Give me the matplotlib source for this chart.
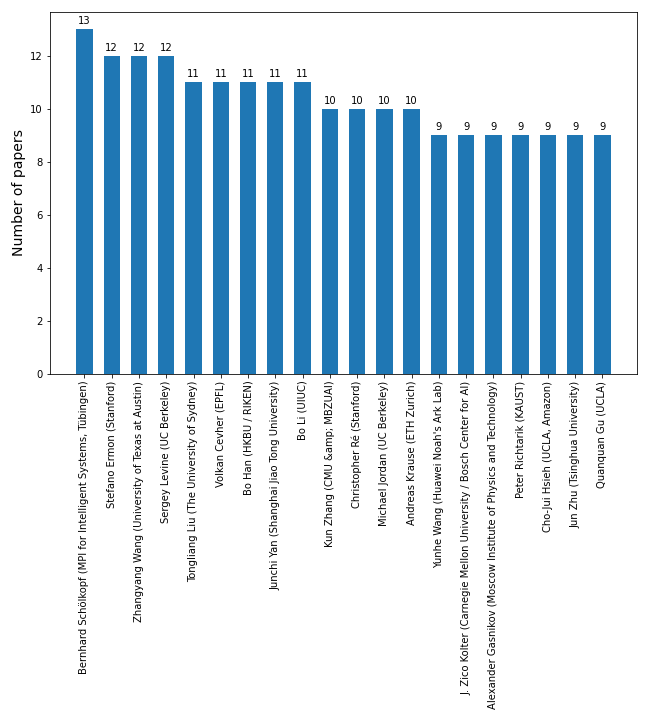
import matplotlib.pyplot as plt

authors = [
    "Bernhard Schölkopf (MPI for Intelligent Systems, Tübingen)",
    "Stefano Ermon (Stanford)",
    "Zhangyang Wang (University of Texas at Austin)",
    "Sergey Levine (UC Berkeley)",
    "Tongliang Liu (The University of Sydney)",
    "Volkan Cevher (EPFL)",
    "Bo Han (HKBU / RIKEN)",
    "Junchi Yan (Shanghai Jiao Tong University)",
    "Bo Li (UIUC)",
    "Kun Zhang (CMU &amp; MBZUAI)",
    "Christopher Ré (Stanford)",
    "Michael Jordan (UC Berkeley)",
    "Andreas Krause (ETH Zurich)",
    "Yunhe Wang (Huawei Noah's Ark Lab)",
    "J. Zico Kolter (Carnegie Mellon University / Bosch Center for AI)",
    "Alexander Gasnikov (Moscow Institute of Physics and Technology)",
    "Peter Richtarik (KAUST)",
    "Cho-Jui Hsieh (UCLA, Amazon)",
    "Jun Zhu (Tsinghua University)",
    "Quanquan Gu (UCLA)",
]
papers = [13, 12, 12, 12, 11, 11, 11, 11, 11, 10, 10, 10, 10, 9, 9, 9, 9, 9, 9, 9]

fig, ax = plt.subplots(figsize=(9, 10), dpi=72)
fig.subplots_adjust(left=0.0765, right=0.9835, top=0.983, bottom=0.481)
bars = ax.bar(range(len(authors)), papers, width=0.6, color="#1f77b4")
ax.bar_label(bars, padding=3, fontsize=10)
ax.set_xticks(range(len(authors)))
ax.set_xticklabels(authors, rotation=90, fontsize=10)
ax.set_ylabel("Number of papers", fontsize=14)
fig.savefig("out.png")
plt.close()
